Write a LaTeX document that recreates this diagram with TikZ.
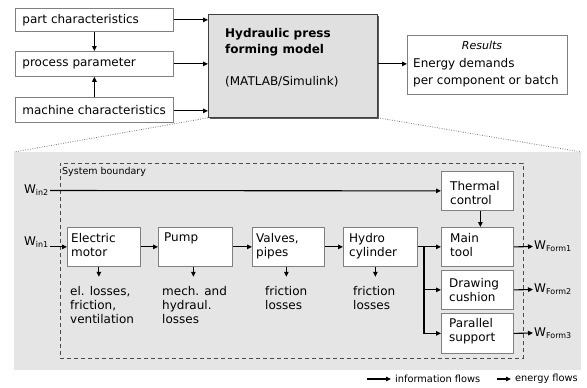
\documentclass[tikz,border=0pt]{standalone}
\usepackage{fontspec}
\setmainfont{DejaVu Sans}
\usetikzlibrary{arrows.meta,shadows}
\begin{document}
\begin{tikzpicture}[x=1pt,y=-1pt,
  every node/.style={font=\fontsize{12}{14}\selectfont, inner sep=0pt},
  box/.style={draw=black!50, line width=0.8pt, fill=white, anchor=north west},
  inbox/.style={box, text width=144pt, inner xsep=7pt, inner ysep=0pt, align=left, minimum height=#1},
  cbox/.style={box, minimum width=#1, minimum height=39pt},
  txt/.style={anchor=north west, align=left},
  arr/.style={-{Triangle[length=5pt,width=4.5pt]}, line width=1.1pt},
  dotl/.style={draw=black!55, dash pattern=on 0.8pt off 1.6pt, line width=0.8pt},
  subs/.style={inner sep=1pt},
]
\useasboundingbox (0,0) rectangle (587,388);

% zoomed region
\node[anchor=north west, fill=black!10, minimum width=567pt, minimum height=218pt] (zr) at (14,152) {};

% top row
\node[inbox=23pt] (pc) at (15,8) {part characteristics};
\node[inbox=25pt] (pp) at (15,51) {process parameter};
\node[inbox=25pt] (mc) at (15,97) {machine characteristics};

\node[box, draw=black!75, fill=black!12, minimum width=169pt, minimum height=103pt,
  drop shadow={shadow xshift=1.6pt, shadow yshift=-1.6pt, fill=black!65, opacity=1}] (hm) at (208,14) {};
\node[txt, font=\fontsize{12}{16}\selectfont] (hmt) at (225,28.2)
  {\textbf{Hydraulic press}\\\textbf{forming model}\\[16pt](MATLAB/Simulink)};

\node[box, minimum width=160pt, minimum height=59pt] (res) at (407,35) {};
\node[anchor=base, font=\fontsize{11}{13}\selectfont\itshape] (rest) at (482,49.3) {Results};
\node[txt, font=\fontsize{12}{16.6}\selectfont] (resb) at (413,58.6)
  {Energy demands\\per component or batch};

\draw[arr] (pc) -- (pp);
\draw[arr] (mc) -- (pp);
\draw[arr] (pc.east) -- (pc.east -| hm.west);
\draw[arr] (pp.east) -- (pp.east -| hm.west);
\draw[arr] ([yshift=-1pt]mc.east) -- ([yshift=-1pt]mc.east -| hm.west);
\draw[arr] (hm.east |- pp.east) -- (res.west |- pp.east);

\draw[dotl] (hm.south west) -- (zr.north west);
\draw[dotl] (hm.south east) -- (zr.north east);

% system boundary
\node[anchor=north west, draw=black!70, dash pattern=on 4pt off 3pt, line width=0.8pt,
  minimum width=463pt, minimum height=195pt] (sb) at (60,163) {};
\node[anchor=north west, font=\fontsize{9.5}{11}\selectfont] (sbl) at (62,167) {System boundary};

% components
\node[cbox=73pt] (em) at (67,227) {};
\node[cbox=74pt] (pu) at (158,227) {};
\node[cbox=72pt] (vp) at (252,227) {};
\node[cbox=74pt] (hc) at (343,227) {};
\node[cbox=72pt] (tc) at (441,171) {};
\node[cbox=72pt] (mt) at (441,227) {};
\node[cbox=72pt] (dc) at (441,270) {};
\node[cbox=72pt, minimum height=40pt] (ps) at (441,313) {};

\node[txt] (emt) at (71,233) {Electric\\motor};
\node[txt] (put) at (164,233) {Pump};
\node[txt] (vpt) at (256,233) {Valves,\\pipes};
\node[txt] (hct) at (349,233) {Hydro\\cylinder};
\node[txt] (tct) at (450,181) {Thermal\\control};
\node[txt] (mtt) at (450,233.5) {Main\\tool};
\node[txt] (dct) at (449,278) {Drawing\\cushion};
\node[txt] (pst) at (449,318) {Parallel\\support};

% losses
\node[txt] (l1) at (70,286) {el. losses,\\friction,\\ventilation};
\node[txt] (l2) at (162,286) {mech. and\\hydraul.\\losses};
\node[txt] (l3) at (265,286) {friction\\losses};
\node[txt] (l4) at (353,286) {friction\\losses};

\draw[arr] ([xshift=-5pt]em.south) -- ++(0,10);
\draw[arr] ([xshift=-2pt]pu.south) -- ++(0,10);
\draw[arr] ([xshift=-2pt]vp.south) -- ++(0,10);
\draw[arr] ([xshift=-5pt]hc.south) -- ++(0,10);

% inputs
\node[anchor=east, subs] (win2) at (50,190.5) {W\textsubscript{in2}};
\node[anchor=east, subs] (win1) at (50,242.5) {W\textsubscript{in1}};
\draw[arr] (win2.east) -- (tc.west);
\draw[arr] (win1.east |- em.west) -- (em.west);

% chain
\draw[arr] (em) -- (pu);
\draw[arr] (pu) -- (vp);
\draw[arr] (vp) -- (hc);
\draw[arr] (hc.east) -- (mt.west);
\coordinate (j) at (424,246.5);
\draw[arr] (j) |- (ps.west);
\draw[arr] (j |- dc.west) -- (dc.west);
\draw[arr] ([xshift=3pt]tc.south) -- ([xshift=3pt]mt.north);

% outputs
\node[anchor=west, subs] (wf1) at (533,246.5) {W\textsubscript{Form1}};
\node[anchor=west, subs] (wf2) at (533,289.5) {W\textsubscript{Form2}};
\node[anchor=west, subs] (wf3) at (533,333) {W\textsubscript{Form3}};
\draw[arr] (mt.east) -- (wf1.west);
\draw[arr] (dc.east) -- (wf2.west);
\draw[arr] (ps.east) -- (wf3.west);

% legend
\coordinate (li0) at (367,379);
\coordinate (le0) at (497,379);
\node[anchor=west, font=\fontsize{9.8}{11}\selectfont] (linf) at (395,379) {information flows};
\node[anchor=west, font=\fontsize{9.8}{11}\selectfont] (leng) at (515,379) {energy flows};
\draw[arr] (li0) -- ([xshift=-4pt]linf.west);
\draw[arr] (le0) -- ([xshift=-4pt]leng.west);
\end{tikzpicture}
\end{document}
